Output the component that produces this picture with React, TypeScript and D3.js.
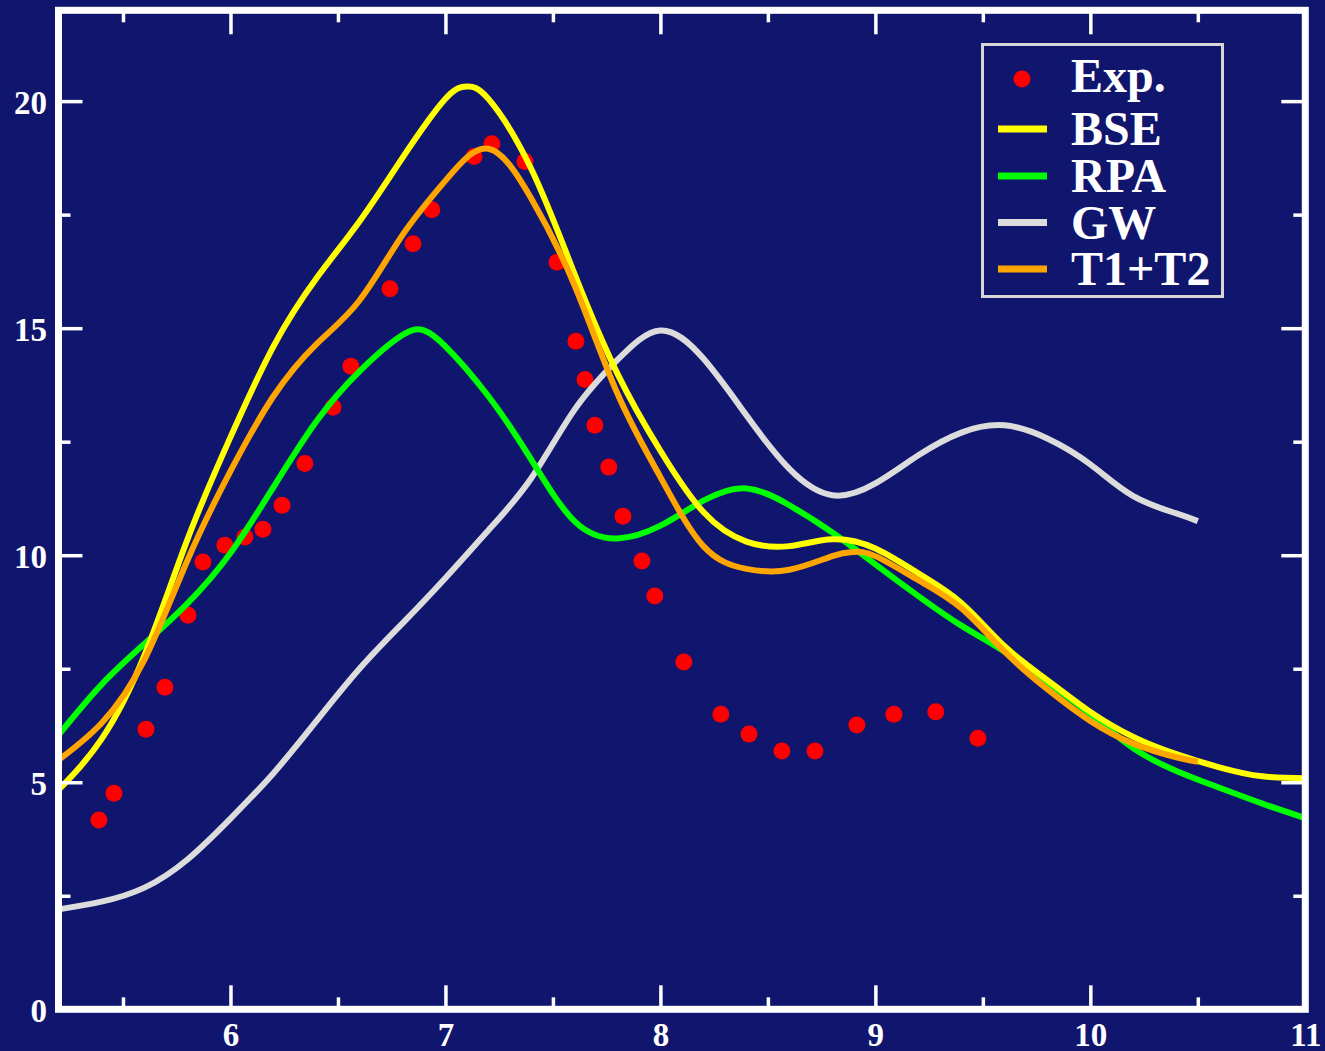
import React, { useEffect, useRef } from 'react';
import * as d3 from 'd3';

// experimental points
const expX = [5.388, 5.458, 5.607, 5.695, 5.802, 5.872, 5.974, 6.067, 6.151, 6.24, 6.346, 6.477, 6.56, 6.742, 6.849, 6.937, 7.133, 7.216, 7.37, 7.519, 7.607, 7.649, 7.695, 7.76, 7.826, 7.914, 7.974, 8.109, 8.281, 8.412, 8.565, 8.719, 8.914, 9.086, 9.281, 9.477];
const expY = [4.17, 4.76, 6.17, 7.09, 8.68, 9.85, 10.22, 10.4, 10.57, 11.1, 12.02, 13.26, 14.16, 15.87, 16.86, 17.61, 18.78, 19.06, 18.67, 16.45, 14.71, 13.87, 12.86, 11.94, 10.86, 9.87, 9.1, 7.65, 6.5, 6.06, 5.69, 5.69, 6.26, 6.5, 6.55, 5.97];

// BSE
const bseX = [5.2, 5.4, 5.6, 5.8, 6.0, 6.2, 6.4, 6.6, 6.8, 7.0, 7.1, 7.2, 7.4, 7.6, 7.8, 8.0, 8.2, 8.4, 8.6, 8.8, 9.0, 9.2, 9.4, 9.6, 9.8, 10.0, 10.2, 10.4, 10.6, 10.8, 11.0];
const bseY = [4.83, 5.95, 7.8, 10.35, 12.6, 14.6, 16.1, 17.35, 18.75, 20.05, 20.32, 20.05, 18.5, 16.2, 14.0, 12.3, 10.95, 10.3, 10.2, 10.35, 10.15, 9.6, 8.95, 8.0, 7.25, 6.55, 6.0, 5.62, 5.33, 5.13, 5.09];

// RPA
const rpaX = [5.2, 5.4, 5.6, 5.8, 6.0, 6.2, 6.4, 6.6, 6.8, 6.9, 7.0, 7.2, 7.4, 7.6, 7.8, 8.0, 8.2, 8.4, 8.6, 8.8, 9.0, 9.2, 9.4, 9.6, 9.8, 10.0, 10.2, 10.4, 10.6, 10.8, 11.0];
const rpaY = [6.04, 7.15, 8.05, 8.94, 10.05, 11.5, 12.95, 14.05, 14.85, 14.95, 14.6, 13.5, 12.1, 10.75, 10.37, 10.65, 11.2, 11.47, 11.1, 10.5, 9.8, 9.1, 8.45, 7.88, 7.2, 6.5, 5.75, 5.25, 4.88, 4.53, 4.21];

// GW
const gwX = [5.2, 5.4, 5.6, 5.8, 6.0, 6.2, 6.4, 6.6, 6.8, 7.0, 7.2, 7.4, 7.6, 7.8, 8.0, 8.2, 8.4, 8.6, 8.8, 9.0, 9.2, 9.4, 9.6, 9.8, 10.0, 10.2, 10.4, 10.5];
const gwY = [2.2, 2.37, 2.68, 3.3, 4.2, 5.2, 6.35, 7.5, 8.5, 9.5, 10.55, 11.7, 13.2, 14.3, 14.95, 14.33, 13.08, 11.9, 11.32, 11.58, 12.2, 12.7, 12.86, 12.57, 12.0, 11.3, 10.92, 10.75];

// T1+T2
const t12X = [5.2, 5.4, 5.6, 5.8, 6.0, 6.2, 6.4, 6.6, 6.8, 7.0, 7.2, 7.4, 7.6, 7.8, 8.0, 8.2, 8.4, 8.6, 8.8, 8.9, 9.0, 9.2, 9.4, 9.6, 9.8, 10.0, 10.2, 10.4, 10.5];
const t12Y = [5.49, 6.3, 7.7, 9.89, 11.85, 13.5, 14.65, 15.61, 17.05, 18.25, 18.95, 17.85, 15.95, 13.56, 11.72, 10.2, 9.7, 9.68, 9.98, 10.07, 9.98, 9.45, 8.83, 7.88, 7.05, 6.35, 5.85, 5.55, 5.45];

const xMajor = [6, 7, 8, 9, 10, 11];
const xMinor = [5.5, 6.5, 7.5, 8.5, 9.5, 10.5];
const yMajor = [0, 5, 10, 15, 20];
const yMinor = [2.5, 7.5, 12.5, 17.5];

const legendNames = ['Exp.', 'BSE', 'RPA', 'GW', 'T1+T2'];

const W = 1325;
const H = 1051;
const BG = '#10156e';
const FONT = '"Liberation Serif", "Times New Roman", serif';

const App = () => {
  const svgRef = useRef(null);

  useEffect(() => {
    const svg = d3.select(svgRef.current);
    svg.selectAll('*').remove();

    const left = 58.5, right = 1305.3, top = 10.3, bottom = 1009.3;
    const x = d3.scaleLinear().domain([5.2, 11]).range([left, right]);
    const y = d3.scaleLinear().domain([0, 22]).range([bottom, top]);

    svg.append('rect').attr('width', W).attr('height', H).attr('fill', BG);

    svg.append('clipPath').attr('id', 'plotclip')
      .append('rect')
      .attr('x', left).attr('y', top)
      .attr('width', right - left).attr('height', bottom - top);

    const plot = svg.append('g').attr('clip-path', 'url(#plotclip)');

    // exp dots under the lines
    plot.selectAll('circle.exp')
      .data(expX.map((v, i) => [v, expY[i]]))
      .enter()
      .append('circle')
      .attr('class', 'exp')
      .attr('cx', d => x(d[0]))
      .attr('cy', d => y(d[1]))
      .attr('r', 8.5)
      .attr('fill', '#ff0000');

    const line = d3.line()
      .x(d => x(d[0]))
      .y(d => y(d[1]))
      .curve(d3.curveNatural);

    const series = [
      { xs: gwX, ys: gwY, color: '#dcdcdc' },
      { xs: rpaX, ys: rpaY, color: '#00ff00' },
      { xs: bseX, ys: bseY, color: '#ffff00' },
      { xs: t12X, ys: t12Y, color: '#ffa500' },
    ];

    series.forEach(s => {
      plot.append('path')
        .datum(s.xs.map((v, i) => [v, s.ys[i]]))
        .attr('d', line)
        .attr('fill', 'none')
        .attr('stroke', s.color)
        .attr('stroke-width', 6);
    });

    // axes, ticks pointing inward on all four sides
    const styleAxis = (g, fontSize) => {
      g.select('.domain').remove();
      g.selectAll('line').attr('stroke', '#fff').attr('stroke-width', 3.5);
      g.selectAll('text')
        .attr('fill', '#fff')
        .attr('font-family', FONT)
        .attr('font-weight', 'bold')
        .attr('font-size', fontSize);
    };

    const gBottom = svg.append('g').attr('transform', `translate(0,${bottom})`)
      .call(d3.axisBottom(x).tickValues(xMajor).tickSize(-24).tickPadding(13).tickFormat(d3.format('d')));
    styleAxis(gBottom, 33);
    svg.append('g').attr('transform', `translate(0,${bottom})`)
      .call(d3.axisBottom(x).tickValues(xMinor).tickSize(-12).tickFormat(() => ''))
      .call(g => styleAxis(g, 0));

    const gLeft = svg.append('g').attr('transform', `translate(${left},0)`)
      .call(d3.axisLeft(y).tickValues(yMajor).tickSize(-24).tickPadding(11.5).tickFormat(d3.format('d')));
    styleAxis(gLeft, 33);
    gLeft.selectAll('text').attr('dy', '0.36em');
    svg.append('g').attr('transform', `translate(${left},0)`)
      .call(d3.axisLeft(y).tickValues(yMinor).tickSize(-12).tickFormat(() => ''))
      .call(g => styleAxis(g, 0));

    svg.append('g').attr('transform', `translate(0,${top})`)
      .call(d3.axisTop(x).tickValues(xMajor).tickSize(-24).tickFormat(() => ''))
      .call(g => styleAxis(g, 0));
    svg.append('g').attr('transform', `translate(0,${top})`)
      .call(d3.axisTop(x).tickValues(xMinor).tickSize(-12).tickFormat(() => ''))
      .call(g => styleAxis(g, 0));

    svg.append('g').attr('transform', `translate(${right},0)`)
      .call(d3.axisRight(y).tickValues(yMajor).tickSize(-24).tickFormat(() => ''))
      .call(g => styleAxis(g, 0));
    svg.append('g').attr('transform', `translate(${right},0)`)
      .call(d3.axisRight(y).tickValues(yMinor).tickSize(-12).tickFormat(() => ''))
      .call(g => styleAxis(g, 0));

    // frame
    svg.append('rect')
      .attr('x', left).attr('y', top)
      .attr('width', right - left).attr('height', bottom - top)
      .attr('fill', 'none')
      .attr('stroke', '#fff')
      .attr('stroke-width', 7);

    // legend
    const lg = svg.append('g');
    lg.append('rect')
      .attr('x', 982.5).attr('y', 44.5)
      .attr('width', 240).attr('height', 252)
      .attr('fill', BG)
      .attr('stroke', '#d6d6d6')
      .attr('stroke-width', 3);

    const rowY = [79, 129, 176, 222.5, 269];
    const legendColors = ['#ff0000', '#ffff00', '#00ff00', '#dcdcdc', '#ffa500'];

    legendNames.forEach((name, i) => {
      if (i === 0) {
        lg.append('circle').attr('cx', 1022).attr('cy', rowY[i]).attr('r', 8.5).attr('fill', legendColors[i]);
      } else {
        lg.append('line')
          .attr('x1', 998).attr('x2', 1047)
          .attr('y1', rowY[i]).attr('y2', rowY[i])
          .attr('stroke', legendColors[i])
          .attr('stroke-width', 7);
      }
      lg.append('text')
        .attr('x', 1071)
        .attr('y', rowY[i] + (i === 0 ? 13 : 16))
        .attr('fill', '#fff')
        .attr('font-family', FONT)
        .attr('font-weight', 'bold')
        .attr('font-size', 48)
        .text(name);
    });
  }, []);

  return (
    <div style={{ position: 'absolute', left: 0, top: 0, width: W, height: H, background: BG }}>
      <svg ref={svgRef} width={W} height={H} style={{ display: 'block' }}></svg>
    </div>
  );
};

export default App;
